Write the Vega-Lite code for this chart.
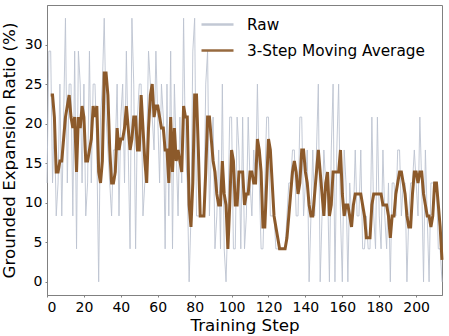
{
"$schema":"https://vega.github.io/schema/vega-lite/v6.json",
"width":395,"height":290,
"autosize":"none",
"padding":{"left":47,"top":5,"right":7,"bottom":41},
"background":"white",
"config":{
"font":"DejaVu Sans",
"view":{"stroke":"#808080","strokeWidth":1},
"axis":{"grid":false,"labelFont":"DejaVu Sans","titleFont":"DejaVu Sans","labelFontSize":14,"titleFontSize":16.7,"titleFontWeight":"normal","labelColor":"#000000","titleColor":"#000000","domainColor":"#808080","tickColor":"#808080","tickSize":2}
},
"data":{"values":[
{"step":0,"raw":12.5,"ma":null},{"step":1,"raw":29.17,"ma":null},{"step":2,"raw":29.17,"ma":23.61},{"step":3,"raw":12.5,"ma":23.61},{"step":4,"raw":20.83,"ma":20.83},{"step":5,"raw":8.33,"ma":13.89},{"step":6,"raw":12.5,"ma":13.89},{"step":7,"raw":25,"ma":15.28},{"step":8,"raw":8.33,"ma":15.28},{"step":9,"raw":20.83,"ma":18.06},
{"step":10,"raw":33.33,"ma":20.83},{"step":11,"raw":12.5,"ma":22.22},{"step":12,"raw":25,"ma":23.61},{"step":13,"raw":25,"ma":20.83},{"step":14,"raw":8.33,"ma":19.44},{"step":15,"raw":29.17,"ma":20.83},{"step":16,"raw":4.17,"ma":13.89},{"step":17,"raw":29.17,"ma":20.83},{"step":18,"raw":25,"ma":19.44},{"step":19,"raw":12.5,"ma":22.22},
{"step":20,"raw":25,"ma":20.83},{"step":21,"raw":8.33,"ma":15.28},{"step":22,"raw":12.5,"ma":15.28},{"step":23,"raw":29.17,"ma":16.67},{"step":24,"raw":12.5,"ma":18.06},{"step":25,"raw":25,"ma":22.22},{"step":26,"raw":25,"ma":20.83},{"step":27,"raw":16.67,"ma":22.22},{"step":28,"raw":0,"ma":13.89},{"step":29,"raw":20.83,"ma":12.5},
{"step":30,"raw":25,"ma":15.28},{"step":31,"raw":33.33,"ma":26.39},{"step":32,"raw":20.83,"ma":26.39},{"step":33,"raw":16.67,"ma":23.61},{"step":34,"raw":12.5,"ma":16.67},{"step":35,"raw":8.33,"ma":12.5},{"step":36,"raw":16.67,"ma":12.5},{"step":37,"raw":16.67,"ma":13.89},{"step":38,"raw":25,"ma":19.44},{"step":39,"raw":8.33,"ma":16.67},
{"step":40,"raw":20.83,"ma":18.06},{"step":41,"raw":25,"ma":18.06},{"step":42,"raw":12.5,"ma":19.44},{"step":43,"raw":29.17,"ma":22.22},{"step":44,"raw":16.67,"ma":19.44},{"step":45,"raw":4.17,"ma":16.67},{"step":46,"raw":33.33,"ma":18.06},{"step":47,"raw":25,"ma":20.83},{"step":48,"raw":4.17,"ma":20.83},{"step":49,"raw":20.83,"ma":16.67},
{"step":50,"raw":25,"ma":16.67},{"step":51,"raw":25,"ma":23.61},{"step":52,"raw":8.33,"ma":19.44},{"step":53,"raw":12.5,"ma":15.28},{"step":54,"raw":16.67,"ma":12.5},{"step":55,"raw":29.17,"ma":19.44},{"step":56,"raw":25,"ma":23.61},{"step":57,"raw":20.83,"ma":25},{"step":58,"raw":16.67,"ma":20.83},{"step":59,"raw":29.17,"ma":22.22},
{"step":60,"raw":20.83,"ma":22.22},{"step":61,"raw":12.5,"ma":20.83},{"step":62,"raw":25,"ma":19.44},{"step":63,"raw":20.83,"ma":19.44},{"step":64,"raw":4.17,"ma":16.67},{"step":65,"raw":25,"ma":16.67},{"step":66,"raw":8.33,"ma":12.5},{"step":67,"raw":29.17,"ma":20.83},{"step":68,"raw":4.17,"ma":13.89},{"step":69,"raw":25,"ma":19.44},
{"step":70,"raw":16.67,"ma":15.28},{"step":71,"raw":8.33,"ma":16.67},{"step":72,"raw":20.83,"ma":15.28},{"step":73,"raw":12.5,"ma":13.89},{"step":74,"raw":33.33,"ma":22.22},{"step":75,"raw":16.67,"ma":20.83},{"step":76,"raw":12.5,"ma":20.83},{"step":77,"raw":0,"ma":9.72},{"step":78,"raw":8.33,"ma":6.94},{"step":79,"raw":29.17,"ma":12.5},
{"step":80,"raw":33.33,"ma":23.61},{"step":81,"raw":8.33,"ma":23.61},{"step":82,"raw":8.33,"ma":16.67},{"step":83,"raw":8.33,"ma":8.33},{"step":84,"raw":8.33,"ma":8.33},{"step":85,"raw":8.33,"ma":8.33},{"step":86,"raw":25,"ma":13.89},{"step":87,"raw":29.17,"ma":20.83},{"step":88,"raw":8.33,"ma":20.83},{"step":89,"raw":16.67,"ma":18.06},
{"step":90,"raw":20.83,"ma":15.28},{"step":91,"raw":4.17,"ma":13.89},{"step":92,"raw":8.33,"ma":11.11},{"step":93,"raw":16.67,"ma":9.72},{"step":94,"raw":4.17,"ma":9.72},{"step":95,"raw":25,"ma":15.28},{"step":96,"raw":4.17,"ma":11.11},{"step":97,"raw":0,"ma":9.72},{"step":98,"raw":8.33,"ma":4.17},{"step":99,"raw":20.83,"ma":9.72},
{"step":100,"raw":20.83,"ma":16.67},{"step":101,"raw":4.17,"ma":15.28},{"step":102,"raw":4.17,"ma":9.72},{"step":103,"raw":20.83,"ma":9.72},{"step":104,"raw":16.67,"ma":13.89},{"step":105,"raw":4.17,"ma":13.89},{"step":106,"raw":20.83,"ma":13.89},{"step":107,"raw":4.17,"ma":9.72},{"step":108,"raw":8.33,"ma":11.11},{"step":109,"raw":20.83,"ma":11.11},
{"step":110,"raw":12.5,"ma":13.89},{"step":111,"raw":8.33,"ma":13.89},{"step":112,"raw":16.67,"ma":12.5},{"step":113,"raw":12.5,"ma":12.5},{"step":114,"raw":25,"ma":18.06},{"step":115,"raw":12.5,"ma":16.67},{"step":116,"raw":4.17,"ma":13.89},{"step":117,"raw":4.17,"ma":6.94},{"step":118,"raw":12.5,"ma":6.94},{"step":119,"raw":20.83,"ma":12.5},
{"step":120,"raw":20.83,"ma":18.06},{"step":121,"raw":8.33,"ma":16.67},{"step":122,"raw":8.33,"ma":12.5},{"step":123,"raw":8.33,"ma":8.33},{"step":124,"raw":4.17,"ma":6.94},{"step":125,"raw":4.17,"ma":5.56},{"step":126,"raw":4.17,"ma":4.17},{"step":127,"raw":4.17,"ma":4.17},{"step":128,"raw":4.17,"ma":4.17},{"step":129,"raw":4.17,"ma":4.17},
{"step":130,"raw":8.33,"ma":5.56},{"step":131,"raw":12.5,"ma":8.33},{"step":132,"raw":12.5,"ma":11.11},{"step":133,"raw":16.67,"ma":13.89},{"step":134,"raw":16.67,"ma":15.28},{"step":135,"raw":8.33,"ma":13.89},{"step":136,"raw":8.33,"ma":11.11},{"step":137,"raw":20.83,"ma":12.5},{"step":138,"raw":20.83,"ma":16.67},{"step":139,"raw":8.33,"ma":16.67},
{"step":140,"raw":12.5,"ma":13.89},{"step":141,"raw":16.67,"ma":12.5},{"step":142,"raw":0,"ma":9.72},{"step":143,"raw":8.33,"ma":8.33},{"step":144,"raw":16.67,"ma":8.33},{"step":145,"raw":8.33,"ma":11.11},{"step":146,"raw":16.67,"ma":13.89},{"step":147,"raw":25,"ma":16.67},{"step":148,"raw":0,"ma":13.89},{"step":149,"raw":8.33,"ma":11.11},
{"step":150,"raw":16.67,"ma":8.33},{"step":151,"raw":12.5,"ma":12.5},{"step":152,"raw":12.5,"ma":13.89},{"step":153,"raw":0,"ma":8.33},{"step":154,"raw":16.67,"ma":9.72},{"step":155,"raw":25,"ma":13.89},{"step":156,"raw":0,"ma":13.89},{"step":157,"raw":16.67,"ma":13.89},{"step":158,"raw":25,"ma":13.89},{"step":159,"raw":8.33,"ma":16.67},
{"step":160,"raw":0,"ma":11.11},{"step":161,"raw":16.67,"ma":8.33},{"step":162,"raw":12.5,"ma":9.72},{"step":163,"raw":0,"ma":9.72},{"step":164,"raw":12.5,"ma":8.33},{"step":165,"raw":8.33,"ma":6.94},{"step":166,"raw":8.33,"ma":9.72},{"step":167,"raw":16.67,"ma":11.11},{"step":168,"raw":8.33,"ma":11.11},{"step":169,"raw":8.33,"ma":11.11},
{"step":170,"raw":16.67,"ma":11.11},{"step":171,"raw":4.17,"ma":9.72},{"step":172,"raw":4.17,"ma":8.33},{"step":173,"raw":8.33,"ma":5.56},{"step":174,"raw":4.17,"ma":5.56},{"step":175,"raw":4.17,"ma":5.56},{"step":176,"raw":20.83,"ma":9.72},{"step":177,"raw":8.33,"ma":11.11},{"step":178,"raw":4.17,"ma":11.11},{"step":179,"raw":20.83,"ma":11.11},
{"step":180,"raw":8.33,"ma":11.11},{"step":181,"raw":4.17,"ma":11.11},{"step":182,"raw":16.67,"ma":9.72},{"step":183,"raw":8.33,"ma":9.72},{"step":184,"raw":4.17,"ma":9.72},{"step":185,"raw":12.5,"ma":8.33},{"step":186,"raw":0,"ma":5.56},{"step":187,"raw":12.5,"ma":8.33},{"step":188,"raw":12.5,"ma":8.33},{"step":189,"raw":8.33,"ma":11.11},
{"step":190,"raw":16.67,"ma":12.5},{"step":191,"raw":16.67,"ma":13.89},{"step":192,"raw":8.33,"ma":13.89},{"step":193,"raw":12.5,"ma":12.5},{"step":194,"raw":12.5,"ma":11.11},{"step":195,"raw":0,"ma":8.33},{"step":196,"raw":8.33,"ma":6.94},{"step":197,"raw":12.5,"ma":6.94},{"step":198,"raw":12.5,"ma":11.11},{"step":199,"raw":16.67,"ma":13.89},
{"step":200,"raw":12.5,"ma":13.89},{"step":201,"raw":8.33,"ma":12.5},{"step":202,"raw":20.83,"ma":13.89},{"step":203,"raw":12.5,"ma":13.89},{"step":204,"raw":0,"ma":11.11},{"step":205,"raw":16.67,"ma":9.72},{"step":206,"raw":8.33,"ma":8.33},{"step":207,"raw":0,"ma":8.33},{"step":208,"raw":12.5,"ma":6.94},{"step":209,"raw":12.5,"ma":8.33},
{"step":210,"raw":12.5,"ma":12.5},{"step":211,"raw":12.5,"ma":12.5},{"step":212,"raw":4.17,"ma":9.72},{"step":213,"raw":4.17,"ma":6.94},{"step":214,"raw":0,"ma":2.78}
]},
"encoding":{
"x":{"field":"step","type":"quantitative","scale":{"domain":[0,214],"nice":false,"zero":false},"axis":{"title":"Training Step","values":[0,20,40,60,80,100,120,140,160,180,200],"labelPadding":3,"titlePadding":3}}
},
"layer":[
{"mark":{"type":"line","strokeWidth":1,"opacity":0.9},
"encoding":{
"y":{"field":"raw","type":"quantitative","scale":{"domain":[-1.667,35],"nice":false,"zero":false},"axis":{"title":"Grounded Expansion Ratio (%)","values":[0,5,10,15,20,25,30],"labelPadding":3,"titlePadding":6}},
"color":{"datum":"Raw","type":"nominal","scale":{"domain":["Raw","3-Step Moving Average"],"range":["#bcc3d0","#8c5a2b"]},
"legend":{"orient":"none","legendX":153,"legendY":2,"title":null,"symbolType":"stroke","symbolSize":1024,"symbolStrokeWidth":2.5,"labelFont":"DejaVu Sans","labelFontSize":15.3,"labelColor":"#000000","labelOffset":12,"labelLimit":0,"rowPadding":-11.5,"padding":0,
"encode":{"symbols":{"update":{"strokeWidth":{"signal":"datum.value === 'Raw' ? 1 : 3"}}}}}}
}},
{"mark":{"type":"line","strokeWidth":3},
"encoding":{
"y":{"field":"ma","type":"quantitative","title":"Grounded Expansion Ratio (%)"},
"color":{"datum":"3-Step Moving Average","type":"nominal"}
}}
]
}
